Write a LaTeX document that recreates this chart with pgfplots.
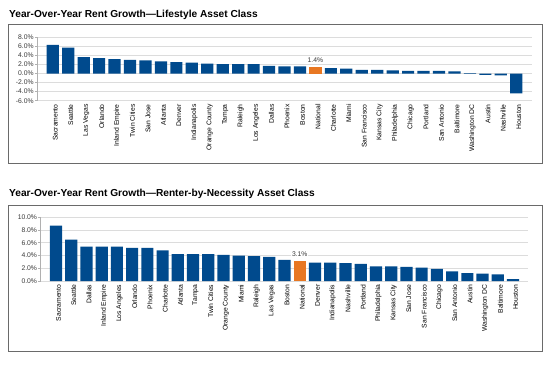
\documentclass[border=0pt]{standalone}
\usepackage{pgfplots}
\pgfplotsset{compat=1.18}
\usepackage{fontspec}
\setmainfont{Liberation Sans}
\definecolor{barblue}{HTML}{004A8D}
\definecolor{barorange}{HTML}{E87722}
\definecolor{gridgray}{HTML}{DCDCDC}
\definecolor{framegray}{HTML}{6A6A6A}
\definecolor{ticktext}{HTML}{3A3A3A}
\newcommand{\tickfont}{\fontsize{6.8}{7.5}\selectfont}
\pgfplotsset{
  rentaxis/.style={
    scale only axis,
    xmin=-1, xmax=31,
    xtick={0,...,30},
    separate axis lines,
    axis x line*=bottom,
    axis y line*=left,
    x axis line style={draw=none},
    y axis line style={draw=gridgray!80!black, line width=0.6bp},
    xtick style={draw=none},
    ytick style={draw=gridgray!80!black, line width=0.6bp},
    tick align=outside,
    major tick length=2.5bp,
    ymajorgrids,
    grid style={draw=gridgray, line width=0.9bp},
    xticklabel style={rotate=90, anchor=east, font=\tickfont, text=black, inner sep=1bp, yshift=-2.5bp},
    yticklabel style={font=\tickfont, text=ticktext, inner sep=1bp},
    ybar, bar width=12.2bp,
  },
}
\begin{document}
\begin{tikzpicture}[x=1bp,y=1bp]
\path[use as bounding box] (0,0) rectangle (552,367);
\fill[white] (0,0) rectangle (552,367);
% frames
\draw[framegray, line width=0.9bp] (8,342.7) rectangle (542.7,203.5);
\draw[framegray, line width=0.9bp] (8,161.5) rectangle (542.7,16);
% titles
\node[anchor=base west, inner sep=0pt, font=\fontsize{10.2}{12}\selectfont\bfseries] at (9,349.7) {Year-Over-Year Rent Growth—Lifestyle Asset Class};
\node[anchor=base west, inner sep=0pt, font=\fontsize{10.2}{12}\selectfont\bfseries] at (9,171) {Year-Over-Year Rent Growth—Renter-by-Necessity Asset Class};

\begin{axis}[rentaxis,
  at={(37.3bp,266.3bp)}, anchor=south west,
  width=494.4bp, height=63.4bp,
  ymin=-6, ymax=8,
  ytick={-6,-4,-2,0,2,4,6,8},
  yticklabels={-6.0\%,-4.0\%,-2.0\%,0.0\%,2.0\%,4.0\%,6.0\%,8.0\%},
  xticklabels={Sacramento,Seattle,Las Vegas,Orlando,Inland Empire,Twin Cities,San Jose,Atlanta,Denver,Indianapolis,Orange County,Tampa,Raleigh,Los Angeles,Dallas,Phoenix,Boston,National,Charlotte,Miami,San Francisco,Kansas City,Philadelphia,Chicago,Portland,San Antonio,Baltimore,Washington DC,Austin,Nashville,Houston},
]
\addplot[fill=barblue, draw=none, bar shift=0pt] coordinates {
(0,6.3) (1,5.7) (2,3.6) (3,3.4) (4,3.2) (5,3.0) (6,2.9) (7,2.7) (8,2.5) (9,2.4)
(10,2.2) (11,2.1) (12,2.1) (13,2.1) (14,1.7) (15,1.6) (16,1.6)
(18,1.2) (19,1.1) (20,0.8) (21,0.8) (22,0.7) (23,0.6) (24,0.6) (25,0.6) (26,0.5)
(27,0.1) (28,-0.3) (29,-0.4) (30,-4.4)};
\addplot[fill=barorange, draw=none, bar shift=0pt,
  nodes near coords={1.4\%},
  every node near coord/.append style={fill=white, inner sep=1bp, font=\tickfont, text=ticktext, yshift=3bp}]
  coordinates {(17,1.4)};
\end{axis}

\begin{axis}[rentaxis,
  at={(40.7bp,86bp)}, anchor=south west,
  width=487.6bp, height=63.7bp,
  ymin=0, ymax=10,
  ytick={0,2,4,6,8,10},
  yticklabels={0.0\%,2.0\%,4.0\%,6.0\%,8.0\%,10.0\%},
  xticklabels={Sacramento,Seattle,Dallas,Inland Empire,Los Angeles,Orlando,Phoenix,Charlotte,Atlanta,Tampa,Twin Cities,Orange County,Miami,Raleigh,Las Vegas,Boston,National,Denver,Indianapolis,Nashville,Portland,Philadelphia,Kansas City,San Jose,San Francisco,Chicago,San Antonio,Austin,Washington DC,Baltimore,Houston},
]
\addplot[fill=barblue, draw=none, bar shift=0pt] coordinates {
(0,8.7) (1,6.5) (2,5.4) (3,5.4) (4,5.4) (5,5.2) (6,5.2) (7,4.8) (8,4.2) (9,4.2)
(10,4.2) (11,4.1) (12,4.0) (13,3.9) (14,3.8) (15,3.3)
(17,2.9) (18,2.9) (19,2.8) (20,2.7) (21,2.3) (22,2.3) (23,2.2) (24,2.1) (25,1.9)
(26,1.5) (27,1.25) (28,1.15) (29,1.05) (30,0.3)};
\addplot[fill=barorange, draw=none, bar shift=0pt,
  nodes near coords={3.1\%},
  every node near coord/.append style={fill=white, inner sep=1bp, font=\tickfont, text=ticktext, yshift=3bp}]
  coordinates {(16,3.1)};
\end{axis}
\end{tikzpicture}
\end{document}
